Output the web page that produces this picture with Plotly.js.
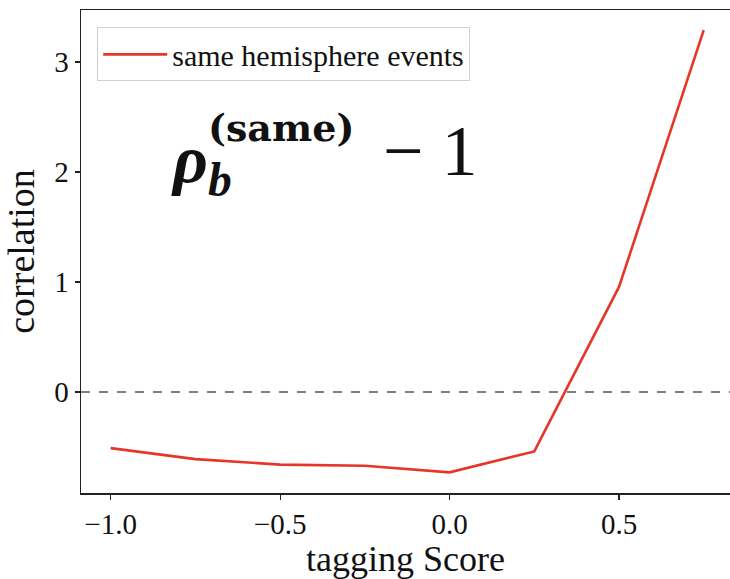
<!DOCTYPE html>
<html>
<head>
<meta charset="utf-8">
<script src="https://cdn.plot.ly/plotly-3.0.1.min.js"></script>
<style>html,body{margin:0;padding:0;background:#fff;}#chart{width:730px;height:579px;}</style>
</head>
<body>
<div id="chart"></div>
<script>
const scores = [-1.0, -0.75, -0.5, -0.25, 0.0, 0.25, 0.5, 0.75];
const correlation = [-0.51, -0.61, -0.66, -0.67, -0.73, -0.54, 0.955, 3.29];
const seriesName = 'same hemisphere events';
const xTicks = [-1.0, -0.5, 0.0, 0.5];
const xTickText = ['\u22121.0', '\u22120.5', '0.0', '0.5'];
const yTicks = [0, 1, 2, 3];

const serif = 'Liberation Serif, DejaVu Serif, serif';
const toPx = (px, py) => ({x: (px - 81) / 649, y: (493 - py) / 483});

const trace = {
  x: scores, y: correlation, type: 'scatter', mode: 'lines', name: seriesName,
  line: {color: '#e5362a', width: 2.6}
};

const p1 = toPx(201, 163), p3 = toPx(281, 127), p4 = toPx(430, 151);

const layout = {
  width: 730, height: 579,
  margin: {l: 81, r: 0, t: 10, b: 86},
  paper_bgcolor: '#fff', plot_bgcolor: '#fff',
  showlegend: true,
  legend: {
    x: 0.025, y: 0.964, xanchor: 'left', yanchor: 'top', itemwidth: 64,
    bgcolor: '#fff', bordercolor: '#d0d0d0', borderwidth: 1,
    font: {family: serif, size: 30, color: '#111'}
  },
  xaxis: {
    range: [-1.0875, 0.8275], tickvals: xTicks, ticktext: xTickText,
    showgrid: false, zeroline: false, showline: true, linecolor: '#222', linewidth: 1.5,
    mirror: true, ticks: 'outside', ticklen: 5, tickwidth: 1.2, tickcolor: '#222',
    tickfont: {family: serif, size: 29, color: '#111'}, automargin: false,
    title: {text: 'tagging Score', font: {family: serif, size: 36, color: '#111'}, standoff: 5}
  },
  yaxis: {
    range: [-0.918, 3.473], tickvals: yTicks,
    showgrid: false, zeroline: false, showline: true, linecolor: '#222', linewidth: 1.5,
    ticks: 'outside', ticklen: 5, tickwidth: 1.2, tickcolor: '#222',
    tickfont: {family: serif, size: 29, color: '#111'}, automargin: false,
    title: {text: 'correlation', font: {family: serif, size: 38, color: '#111'}, standoff: 9}
  },
  shapes: [{
    type: 'line', xref: 'paper', x0: 0, x1: 1, yref: 'y', y0: 0, y1: 0,
    line: {color: '#555', width: 1.5, dash: 'dash'}
  }],
  annotations: [
    {xref: 'paper', yref: 'paper', x: p1.x, y: p1.y, xanchor: 'center', yanchor: 'middle', showarrow: false,
     text: '<b><i>ρ<sub>b</sub></i></b>', font: {family: serif, size: 68, color: '#111'}},
    {xref: 'paper', yref: 'paper', x: p3.x, y: p3.y, xanchor: 'center', yanchor: 'middle', showarrow: false,
     text: '<b>(same)</b>', font: {family: 'DejaVu Serif, serif', size: 38, color: '#111'}},
    {xref: 'paper', yref: 'paper', x: p4.x, y: p4.y, xanchor: 'center', yanchor: 'middle', showarrow: false,
     text: '\u2212 1', font: {family: serif, size: 72, color: '#111'}}
  ]
};

Plotly.newPlot('chart', [trace], layout, {displayModeBar: false, staticPlot: true});
</script>
</body>
</html>
